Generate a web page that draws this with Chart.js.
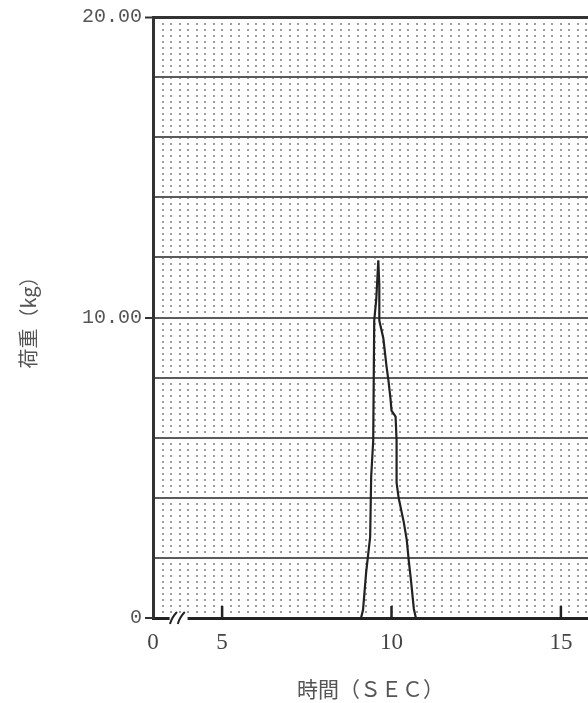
<!DOCTYPE html>
<html>
<head>
<meta charset="utf-8">
<script src="https://cdn.jsdelivr.net/npm/chart.js@4"></script>
<style>
    html, body { margin: 0; padding: 0; background: #fff; }
    #wrap { width: 588px; height: 703px; }
</style>
</head>
<body>
<div id="wrap"><canvas id="chart"></canvas></div>
<script>
// Trace (time in sec, load in kg)
const timeSec = [3.0, 9.10, 9.16, 9.25, 9.37, 9.40, 9.46, 9.49, 9.55, 9.61, 9.64, 9.64, 9.76, 9.85,
    9.91, 9.97, 10.00, 10.12, 10.15, 10.15, 10.21, 10.36, 10.45, 10.51, 10.57, 10.66, 10.72, 15.8];
const loadKg = [0, 0, 0.27, 1.5, 2.7, 4.7, 5.9, 9.9, 10.6, 11.9, 11.1, 9.9, 9.3, 8.4,
    7.9, 7.3, 6.9, 6.7, 5.9, 4.5, 4.0, 3.2, 2.6, 1.9, 1.3, 0.3, 0, 0];

// Axis ticks (x axis is broken between 0 and 5)
const xTickValues = [5, 10, 15];
const yTickStep = 2;
const yTickLabels = { 0: '0', 10: '10.00', 20: '20.00' };

const X_MIN = 2.96;   // where the broken axis starts, labelled "0"
const X_MAX = 15.8;

const points = timeSec.map((t, i) => ({ x: t, y: loadKg[i] }));

// Inside tick marks on the x axis and the "//" axis break
const axisDecor = {
    id: 'axisDecor',
    afterDraw(chart) {
        const ctx = chart.ctx;
        const xs = chart.scales.x;
        const base = chart.chartArea.bottom;
        ctx.save();
        ctx.strokeStyle = '#222';
        ctx.lineWidth = 2.5;
        xTickValues.forEach(v => {
            const px = xs.getPixelForValue(v);
            ctx.beginPath();
            ctx.moveTo(px, base);
            ctx.lineTo(px, base - 12);
            ctx.stroke();
        });
        // break
        const g0 = xs.getPixelForValue(3.45);
        const g1 = xs.getPixelForValue(3.98);
        ctx.fillStyle = '#fff';
        ctx.fillRect(g0, base - 3, g1 - g0, 6);
        ctx.lineWidth = 2;
        [3.55, 3.78].forEach(v => {
            const px = xs.getPixelForValue(v);
            ctx.beginPath();
            ctx.moveTo(px - 3, base + 6);
            ctx.quadraticCurveTo(px - 1, base - 1, px + 4, base - 6);
            ctx.stroke();
        });
        ctx.restore();
    }
};

new Chart(document.getElementById('chart'), {
    type: 'line',
    data: {
        datasets: [{
            data: points,
            borderColor: '#222',
            borderWidth: 2.2,
            pointRadius: 0,
            tension: 0
        }]
    },
    options: {
        responsive: true,
        maintainAspectRatio: false,
        animation: false,
        layout: { padding: { top: 17, right: 0, bottom: 0, left: 0 } },
        plugins: {
            legend: { display: false },
            tooltip: { enabled: false }
        },
        scales: {
            x: {
                type: 'linear',
                position: 'bottom',
                min: X_MIN,
                max: X_MAX,
                afterBuildTicks: scale => {
                    scale.ticks = [{ value: X_MIN }].concat(xTickValues.map(v => ({ value: v })));
                },
                afterFit: scale => { scale.height = 85; },
                grid: { display: false, drawTicks: false },
                border: { display: true, color: '#222', width: 3 },
                ticks: {
                    padding: 11,
                    color: '#444',
                    font: { family: 'Liberation Serif', size: 23 },
                    maxRotation: 0,
                    autoSkip: false,
                    callback: v => (v === X_MIN ? '0' : String(v))
                },
                title: {
                    display: true,
                    text: '時間（ＳＥＣ）',
                    color: '#555',
                    font: { family: 'Noto Sans CJK JP', size: 21 },
                    padding: { top: 0, bottom: 1 }
                }
            },
            xDots: {
                type: 'linear',
                position: 'top',
                min: X_MIN,
                max: X_MAX,
                afterBuildTicks: scale => {
                    const t = [];
                    for (let v = 3; v <= X_MAX; v += 0.25) t.push({ value: v });
                    scale.ticks = t;
                },
                grid: { color: 'rgba(0,0,0,0.38)', lineWidth: 2, drawTicks: false },
                border: { display: false, dash: [2, 4] },
                ticks: { display: false }
            },
            y: {
                min: 0,
                max: 20,
                afterBuildTicks: scale => {
                    const t = [];
                    for (let v = 0; v <= 20; v += yTickStep) t.push({ value: v });
                    scale.ticks = t;
                },
                afterFit: scale => { scale.width = 153; },
                grid: {
                    color: ctx => (ctx.tick && ctx.tick.value === 20 ? '#333' : '#5a5a5a'),
                    lineWidth: ctx => (ctx.tick && ctx.tick.value === 20 ? 3 : 2),
                    tickLength: 8,
                    tickColor: ctx => (ctx.tick && yTickLabels[ctx.tick.value] !== undefined ? '#333' : 'rgba(0,0,0,0)'),
                    tickWidth: 2
                },
                border: { display: true, color: '#333', width: 3 },
                ticks: {
                    padding: 3,
                    color: '#555',
                    font: { family: 'Liberation Mono', size: 20 },
                    autoSkip: false,
                    callback: v => (yTickLabels[v] !== undefined ? yTickLabels[v] : '')
                },
                title: {
                    display: true,
                    text: '荷重（kg）',
                    color: '#555',
                    font: { family: 'Noto Sans CJK JP', size: 20 },
                    padding: { top: 16, bottom: 0 }
                }
            }
        }
    },
    plugins: [axisDecor]
});
</script>
</body>
</html>
